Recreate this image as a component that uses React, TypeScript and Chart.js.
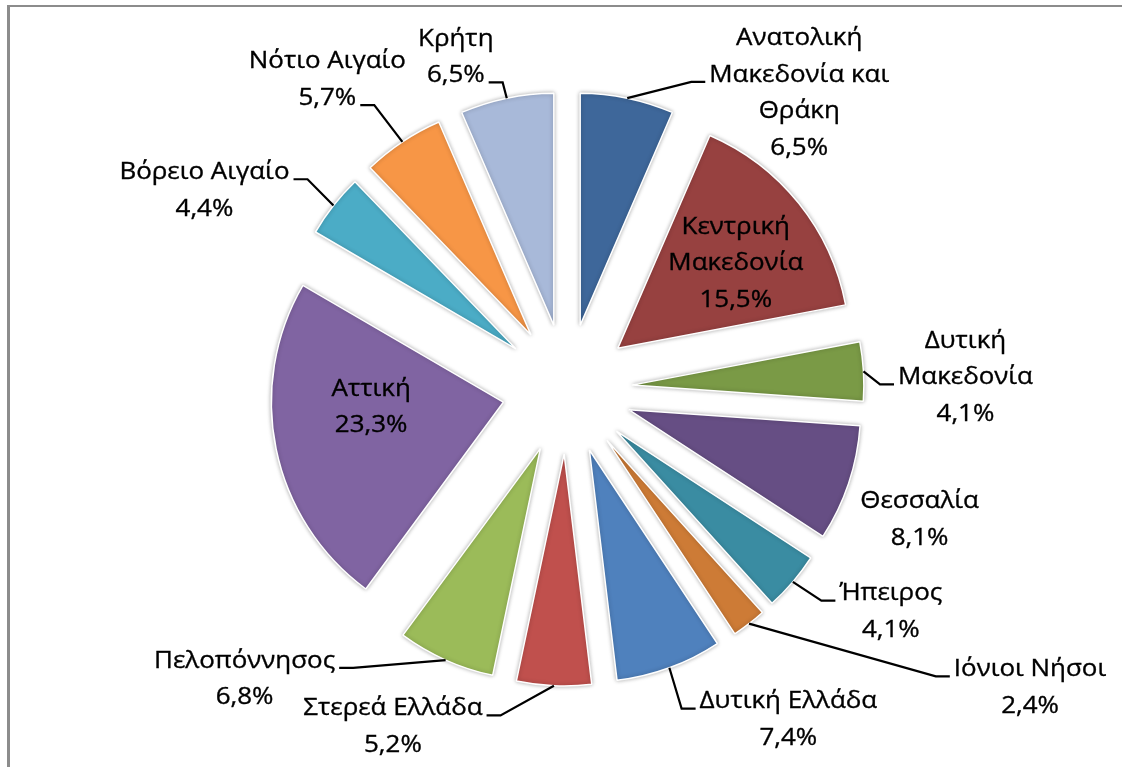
import { useEffect, useRef } from "react";
import { Chart, registerables } from "chart.js";

Chart.register(...registerables);

// ---- data ----
const regions = [
  "Ανατολική Μακεδονία και Θράκη",
  "Κεντρική Μακεδονία",
  "Δυτική Μακεδονία",
  "Θεσσαλία",
  "Ήπειρος",
  "Ιόνιοι Νήσοι",
  "Δυτική Ελλάδα",
  "Στερεά Ελλάδα",
  "Πελοπόννησος",
  "Αττική",
  "Βόρειο Αιγαίο",
  "Νότιο Αιγαίο",
  "Κρήτη",
];
const shares = [6.5, 15.5, 4.1, 8.1, 4.1, 2.4, 7.4, 5.2, 6.8, 23.3, 4.4, 5.7, 6.5];

// ---- styling / layout ----
const sliceColors = [
  "#3E679A", "#974140", "#7A9A46", "#664E84", "#3A8CA2", "#CD7B36",
  "#4F81BD", "#C0504D", "#9BBB59", "#8064A2", "#4BACC6", "#F79646", "#A8B9D9",
];
// words per wrapped line for each label name
const wrapWords: number[][] = [
  [1, 2, 1], [1, 1], [1, 1], [1], [1], [2], [2], [2], [1], [1], [2], [2], [1],
];
// label block centre relative to the outer-middle point of each slice
const labelNudges: [number, number][] = [
  [172, -5], [-63, 60], [102, 6], [71, 36], [98, 30], [281, 64], [119, 52],
  [-161, 41], [-201, 19], [95, -42], [-129, -15], [-75, -62], [-51, -41],
];
// leader line: [line index to attach to, side (-1 left, 1 right)] or null
const leaders: ([number, number] | null)[] = [
  [1, -1], null, [1, -1], null, [0, -1], [0, -1], [0, -1], [0, 1], [0, 1], null, [0, 1], [1, 1], [1, 1],
];

const RADIUS = 232;
const EXPLODE = 65;
const LINE_H = 36.5;
const FONT = '24px "Open Sans"';
const SX = 1.08;
const TEXT = "#000000";

function nameLines(i: number): string[] {
  const words = regions[i].split(" ");
  const out: string[] = [];
  let p = 0;
  for (const n of wrapWords[i]) {
    out.push(words.slice(p, p + n).join(" "));
    p += n;
  }
  if (p < words.length) out[out.length - 1] += " " + words.slice(p).join(" ");
  return out;
}
const pct = (v: number) => v.toFixed(1).replace(".", ",") + "%";

const explodePlugin = {
  id: "explode",
  afterDatasetUpdate(chart: any, args: any) {
    const meta = args.meta;
    meta.data.forEach((arc: any) => {
      const mid = (arc.startAngle + arc.endAngle) / 2;
      arc.x += Math.cos(mid) * EXPLODE;
      arc.y += Math.sin(mid) * EXPLODE;
    });
  },
  beforeDatasetsDraw(chart: any) {
    const ctx = chart.ctx;
    ctx.save();
    ctx.shadowColor = "rgba(0,0,0,0.30)";
    ctx.shadowBlur = 4;
    ctx.shadowOffsetX = 0;
    ctx.shadowOffsetY = 0;
  },
  afterDatasetsDraw(chart: any) {
    const ctx = chart.ctx;
    ctx.restore();
    const meta = chart.getDatasetMeta(0);
    ctx.save();
    ctx.font = FONT;
    ctx.textAlign = "center";
    ctx.textBaseline = "middle";
    meta.data.forEach((arc: any, i: number) => {
      const mid = (arc.startAngle + arc.endAngle) / 2;
      const R = arc.outerRadius;
      const px = arc.x + Math.cos(mid) * R;
      const py = arc.y + Math.sin(mid) * R;
      const lines = [...nameLines(i), pct(shares[i])];
      const cx = px + labelNudges[i][0];
      const cy = py + labelNudges[i][1];
      const n = lines.length;
      lines.forEach((t, k) => {
        const ly = cy + (k - (n - 1) / 2) * LINE_H;
        ctx.save();
        ctx.translate(cx, ly);
        ctx.scale(SX, 1);
        ctx.fillStyle = TEXT;
        ctx.strokeStyle = TEXT;
        ctx.lineWidth = 0.35;
        ctx.fillText(t, 0, 0);
        ctx.strokeText(t, 0, 0);
        ctx.restore();
      });
      const ld = leaders[i];
      if (ld) {
        const [k, side] = ld;
        const w = ctx.measureText(lines[k]).width * SX;
        const ly = cy + (k - (n - 1) / 2) * LINE_H + 7;
        const ax = cx + side * (w / 2 + 4);
        const sx = ax + side * 14;
        ctx.beginPath();
        ctx.moveTo(ax, ly);
        ctx.lineTo(sx, ly);
        ctx.lineTo(px, py);
        ctx.strokeStyle = "#000000";
        ctx.lineWidth = 2.2;
        ctx.lineJoin = "miter";
        ctx.stroke();
      }
    });
    ctx.restore();
  },
};

export default function App() {
  const ref = useRef<HTMLCanvasElement>(null);
  useEffect(() => {
    const chart = new Chart(ref.current as HTMLCanvasElement, {
      type: "pie",
      data: {
        labels: regions,
        datasets: [
          {
            data: shares,
            backgroundColor: sliceColors,
            borderColor: "#ffffff",
            borderWidth: 1.5,
            radius: RADIUS,
          } as any,
        ],
      },
      options: {
        responsive: false,
        animation: false,
        events: [],
        layout: { padding: { left: 12, top: 11, right: 0, bottom: 0 } },
        plugins: { legend: { display: false }, tooltip: { enabled: false } },
      },
      plugins: [explodePlugin],
    });
    return () => chart.destroy();
  }, []);
  return (
    <div style={{ position: "absolute", left: 0, top: 0, width: 1122, height: 767, overflow: "hidden", background: "#ffffff" }}>
      <div
        style={{
          position: "absolute", left: 7, top: 5, width: 1300, height: 1000,
          borderLeft: "3px solid #8c8c8c", borderTop: "2px solid #8c8c8c",
        }}
      />
      <canvas ref={ref} width={1122} height={767} style={{ position: "absolute", left: 0, top: 0 }} />
    </div>
  );
}
